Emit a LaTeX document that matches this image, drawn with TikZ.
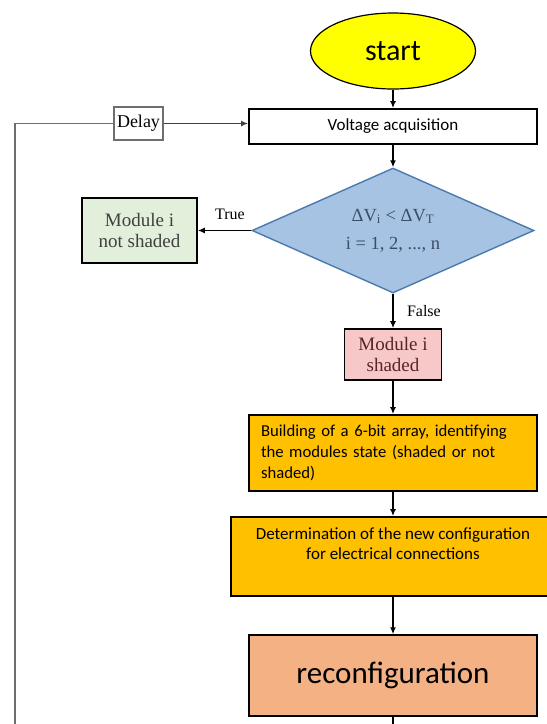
\documentclass[tikz,border=0pt]{standalone}
\usepackage{fontspec}
\setmainfont{Carlito}
\newfontfamily\timesfont{Liberation Serif}
\usetikzlibrary{shapes.geometric,arrows.meta}

\definecolor{startyellow}{HTML}{FFFF00}
\definecolor{decblue}{HTML}{A7C3E4}
\definecolor{decedge}{HTML}{4A7AAE}
\definecolor{dectext}{HTML}{3A4D66}
\definecolor{okgreen}{HTML}{E2EFDA}
\definecolor{badpink}{HTML}{F6C8C8}
\definecolor{badtext}{HTML}{5A2424}
\definecolor{steporange}{HTML}{FFC000}
\definecolor{reconfsalmon}{HTML}{F4B183}
\definecolor{loopgray}{HTML}{6E6E6E}

\begin{document}
\begin{tikzpicture}[x=1pt,y=-1pt,
    box/.style={draw,line width=1.8pt,inner sep=0pt},
    serifbox/.style={box,line width=1.6pt,align=center,font=\timesfont\fontsize{19}{21}\selectfont},
    flow/.style={line width=1.4pt,-{Latex[length=7pt,width=6pt]}},
    looppath/.style={draw=loopgray,line width=1.6pt}]
  \clip (0,0) rectangle (547,724);
  \node[ellipse,draw,line width=1.2pt,fill=startyellow,minimum width=165pt,minimum height=76pt,inner sep=0pt,font=\fontsize{30}{32}\selectfont] (start) at (393,51) {start};
  \node[box,fill=white,minimum width=288pt,minimum height=35pt,font=\fontsize{17}{20}\selectfont] (volt) at (393,126.5) {Voltage acquisition};
  \node[box,draw=loopgray,line width=1.4pt,minimum width=49pt,minimum height=33pt,font=\timesfont\fontsize{18}{20}\selectfont] (delay) at (138.5,123.5) {Delay};
  \node[diamond,aspect=2.25,draw=decedge,line width=1.4pt,fill=decblue,minimum width=282pt,minimum height=125pt,inner sep=0pt,align=center,text=dectext,font=\timesfont\fontsize{18.5}{28}\selectfont] (test) at (393,230.5) {ΔV\textsubscript{i} < ΔV\textsubscript{T}\\i = 1, 2, ..., n};
  \node[serifbox,fill=okgreen,text=black!75,minimum width=115pt,minimum height=65pt] (notshaded) at (139.5,230.5) {Module i\\not shaded};
  \node[serifbox,fill=badpink,text=badtext,minimum width=97pt,minimum height=51pt] (shaded) at (393,354.5) {Module i\\shaded};
  \node[box,fill=steporange,minimum width=288pt,minimum height=76pt,text width=264pt,align=left,font=\fontsize{16.7}{21}\selectfont] (bitarray) at (393,453) {Building of a 6-bit array, identifying\\the modules state (shaded or not\\shaded)};
  \node[box,fill=steporange,minimum width=324pt,minimum height=79pt,align=center,font=\fontsize{17}{20}\selectfont] (newconfig) at (393,556.5) {Determination of the new configuration\\for electrical connections\\\strut};
  \node[box,line width=1.4pt,fill=reconfsalmon,minimum width=288pt,minimum height=81pt,font=\fontsize{31}{34}\selectfont] (reconf) at (393,675.5) {reconfiguration};
  \coordinate (loopend) at (15,724);

  \draw[flow] (start) -- (volt);
  \draw[flow] (volt) -- (test);
  \draw[flow] (test) -- node[pos=0.4,above=7pt,font=\timesfont\fontsize{16}{18}\selectfont] {True} (notshaded);
  \draw[flow] (test) -- node[right=10pt,font=\timesfont\fontsize{16}{18}\selectfont] {False} (shaded);
  \draw[flow] (shaded) -- (bitarray);
  \draw[flow] (bitarray) -- (newconfig);
  \draw[flow] (newconfig) -- (reconf);
  \draw[line width=1.4pt] (reconf) -- (reconf.south |- loopend);
  \draw[looppath] (loopend) |- (delay.west);
  \draw[flow,draw=black!75,fill=black!75] (delay) -- (delay -| volt.west);
\end{tikzpicture}
\end{document}
